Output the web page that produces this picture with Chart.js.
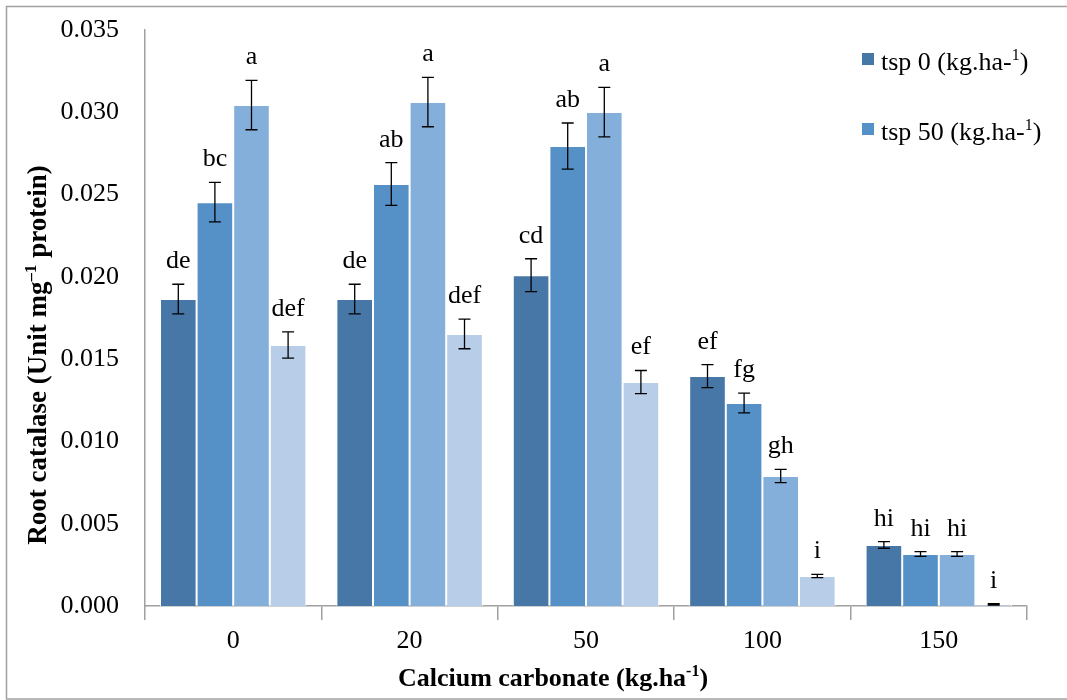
<!DOCTYPE html>
<html>
<head>
<meta charset="utf-8">
<script src="https://cdn.jsdelivr.net/npm/chart.js@4.4.1/dist/chart.umd.min.js"></script>
<style>
  html, body { margin: 0; padding: 0; background: #fff; }
  #wrap { width: 1067px; height: 700px; position: relative; }
</style>
</head>
<body>
<div id="wrap"><canvas id="c" width="1067" height="700"></canvas></div>
<script>
// Calcium carbonate rates (x categories)
const categories = ['0', '20', '50', '100', '150'];

// Root catalase means, standard errors and significance letters per treatment
const tsp0        = [0.01865, 0.01865, 0.02010, 0.01397, 0.00371];
const tsp0Err     = [0.0009, 0.0009, 0.0010, 0.0007, 0.0002];
const tsp0Letters = ['de', 'de', 'cd', 'ef', 'hi'];

const tsp50        = [0.02454, 0.02564, 0.02795, 0.01233, 0.00316];
const tsp50Err     = [0.0012, 0.0013, 0.0014, 0.0006, 0.00015];
const tsp50Letters = ['bc', 'ab', 'ab', 'fg', 'hi'];

const tsp100        = [0.03044, 0.03062, 0.03001, 0.00790, 0.00316];
const tsp100Err     = [0.0015, 0.0015, 0.0015, 0.0004, 0.00015];
const tsp100Letters = ['a', 'a', 'a', 'gh', 'hi'];

const tsp150        = [0.01586, 0.01653, 0.01361, 0.00182, 0.00010];
const tsp150Err     = [0.0008, 0.0009, 0.0007, 0.0001, 0.00004];
const tsp150Letters = ['def', 'def', 'ef', 'i', 'i'];

// y axis range
const yMin = 0, yMax = 0.035, yStep = 0.005;

// Rich-text pieces (sup = superscript)
const yTitleParts = [{t: 'Root catalase (Unit mg'}, {t: '\u20131', sup: true}, {t: ' protein)'}];
const xTitleParts = [{t: 'Calcium carbonate (kg.ha'}, {t: '-1', sup: true}, {t: ')'}];
const legendParts = [
  [{t: 'tsp 0 (kg.ha-'}, {t: '1', sup: true}, {t: ')'}],
  [{t: 'tsp 50 (kg.ha-'}, {t: '1', sup: true}, {t: ')'}]
];

const colors = ['#4677A7', '#5591C7', '#85AFDB', '#B8CEE8'];
const SERIF = '"Liberation Serif", "Times New Roman", serif';
const FS = 26;

function drawRich(ctx, parts, x, y, size, bold, align) {
  const w = (p) => {
    ctx.font = (bold ? 'bold ' : '') + (p.sup ? Math.round(size * 0.62) : size) + 'px ' + SERIF;
    return ctx.measureText(p.t).width;
  };
  const total = parts.reduce((s, p) => s + w(p), 0);
  let cx = align === 'center' ? x - total / 2 : x;
  ctx.textAlign = 'left';
  for (const p of parts) {
    const pw = w(p);
    ctx.fillText(p.t, cx, p.sup ? y - size * 0.38 : y);
    cx += pw;
  }
}

const errs = [tsp0Err, tsp50Err, tsp100Err, tsp150Err];
const letters = [tsp0Letters, tsp50Letters, tsp100Letters, tsp150Letters];

const decorations = {
  id: 'decorations',
  beforeDraw(chart) {
    const ctx = chart.ctx;
    ctx.save();
    ctx.fillStyle = '#fff';
    ctx.fillRect(0, 0, chart.width, chart.height);
    ctx.strokeStyle = '#a0a0a0';
    ctx.lineWidth = 1.5;
    ctx.strokeRect(6.5, 6.5, 1100, 692.5);
    ctx.restore();
  },
  afterDatasetsDraw(chart) {
    const ctx = chart.ctx;
    const y = chart.scales.y;
    ctx.save();
    chart.data.datasets.forEach((ds, di) => {
      const meta = chart.getDatasetMeta(di);
      meta.data.forEach((bar, i) => {
        const v = ds.data[i], e = errs[di][i];
        const top = y.getPixelForValue(v + e);
        const bot = y.getPixelForValue(v - e);
        ctx.strokeStyle = '#000';
        ctx.lineWidth = 1.3;
        ctx.beginPath();
        ctx.moveTo(bar.x, top); ctx.lineTo(bar.x, bot);
        ctx.moveTo(bar.x - 6, top); ctx.lineTo(bar.x + 6, top);
        ctx.moveTo(bar.x - 6, bot); ctx.lineTo(bar.x + 6, bot);
        ctx.stroke();
        ctx.fillStyle = '#000';
        ctx.font = FS + 'px ' + SERIF;
        ctx.textAlign = 'center';
        ctx.textBaseline = 'alphabetic';
        ctx.fillText(letters[di][i], bar.x, top - 16);
      });
    });
    ctx.restore();
  },
  afterDraw(chart) {
    const ctx = chart.ctx;
    ctx.save();
    ctx.fillStyle = '#000';
    ctx.textBaseline = 'alphabetic';
    // y axis title
    ctx.save();
    ctx.translate(46, 355);
    ctx.rotate(-Math.PI / 2);
    drawRich(ctx, yTitleParts, 0, 0, 27, true, 'center');
    ctx.restore();
    // x axis title
    drawRich(ctx, xTitleParts, 553, 686, FS, true, 'center');
    // legend
    legendParts.forEach((parts, k) => {
      const ly = 70 + k * 70;
      ctx.fillStyle = colors[k];
      ctx.fillRect(862, ly - 17, 12, 12);
      ctx.fillStyle = '#000';
      drawRich(ctx, parts, 881, ly, FS, false, 'left');
    });
    ctx.restore();
  }
};

new Chart(document.getElementById('c'), {
  type: 'bar',
  data: {
    labels: categories,
    datasets: [
      {label: 'tsp 0', data: tsp0, backgroundColor: colors[0]},
      {label: 'tsp 50', data: tsp50, backgroundColor: colors[1]},
      {label: 'tsp 100', data: tsp100, backgroundColor: colors[2]},
      {label: 'tsp 150', data: tsp150, backgroundColor: colors[3]}
    ].map(d => Object.assign(d, {
      borderColor: 'rgba(255,255,255,0.85)',
      borderWidth: 1,
      borderSkipped: 'bottom',
      barPercentage: 1,
      categoryPercentage: 0.83
    }))
  },
  options: {
    responsive: false,
    animation: false,
    events: [],
    layout: {padding: {left: 0, top: 30, right: 40, bottom: 0}},
    plugins: {legend: {display: false}, tooltip: {enabled: false}},
    scales: {
      x: {
        grid: {display: true, offset: true, drawOnChartArea: false, drawTicks: true,
               tickLength: 14, color: '#a0a0a0', lineWidth: 1.5},
        border: {display: true, color: '#a0a0a0', width: 1.5},
        ticks: {color: '#000', font: {family: SERIF, size: FS}, padding: 6, maxRotation: 0},
        afterFit(s) { s.height = 94; }
      },
      y: {
        min: yMin, max: yMax,
        grid: {display: false, drawTicks: false},
        border: {display: true, color: '#a0a0a0', width: 1.5},
        ticks: {stepSize: yStep, color: '#000', font: {family: SERIF, size: FS}, padding: 26,
                callback: v => Number(v).toFixed(3)},
        afterFit(s) { s.width = 145; s.paddingTop = 0; s.paddingBottom = 0; }
      }
    }
  },
  plugins: [decorations]
});
</script>
</body>
</html>
